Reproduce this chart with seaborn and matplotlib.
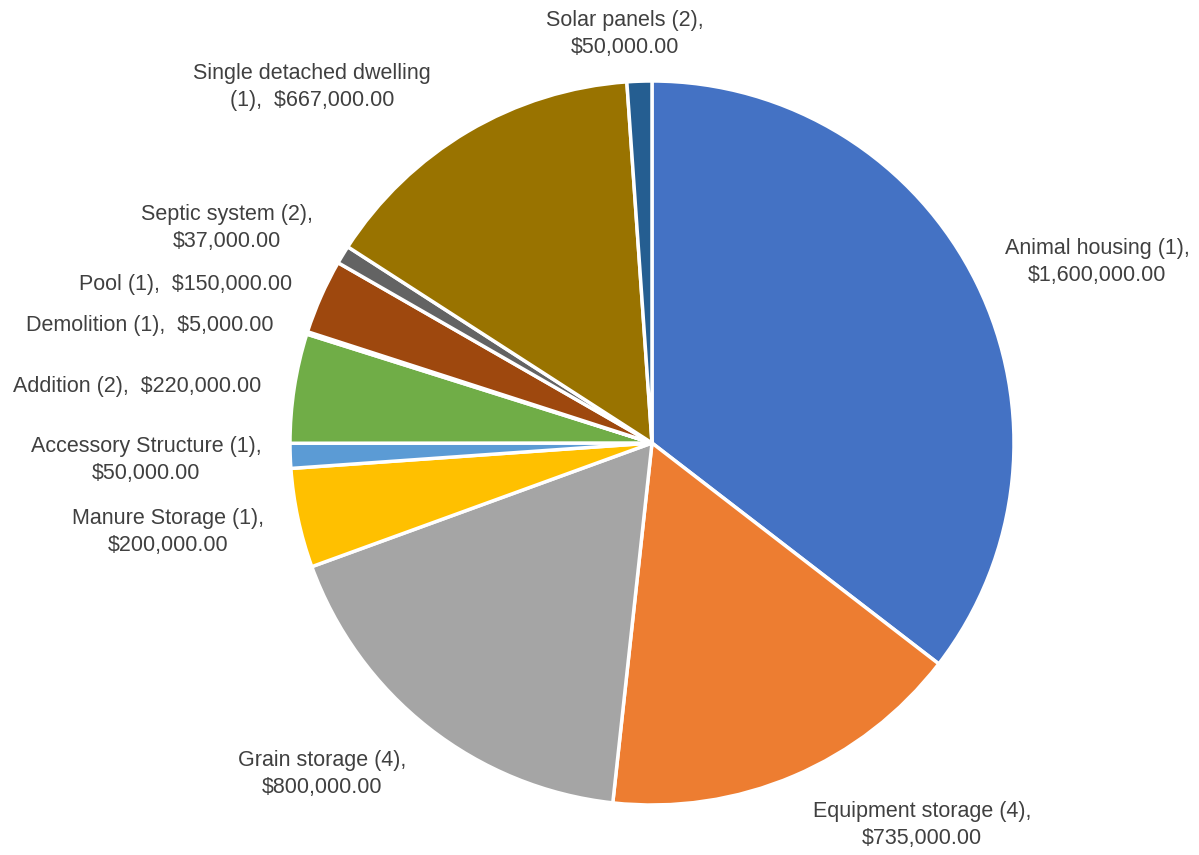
import matplotlib
matplotlib.use("Agg")
import matplotlib.pyplot as plt
import seaborn as sns
import numpy as np

sns.set_theme(style="white")
plt.rcParams['font.family'] = ['Liberation Sans', 'DejaVu Sans']

categories = ["Animal housing (1)", "Equipment storage (4)", "Grain storage (4)",
              "Manure Storage (1)", "Accessory Structure (1)", "Addition (2)",
              "Demolition (1)", "Pool (1)", "Septic system (2)",
              "Single detached dwelling (1)", "Solar panels (2)"]
values = [1600000, 735000, 800000, 200000, 50000, 220000, 5000, 150000, 37000, 667000, 50000]
label_texts = ["Animal housing (1),\n$1,600,000.00",
               "Equipment storage (4),\n$735,000.00",
               "Grain storage (4),\n$800,000.00",
               "Manure Storage (1),\n$200,000.00",
               "Accessory Structure (1),\n$50,000.00",
               "Addition (2),  $220,000.00",
               "Demolition (1),  $5,000.00",
               "Pool (1),  $150,000.00",
               "Septic system (2),\n$37,000.00",
               "Single detached dwelling\n(1),  $667,000.00",
               "Solar panels (2),\n$50,000.00"]
colors = ["#4472C4", "#ED7D31", "#A5A5A5", "#FFC000", "#5B9BD5", "#70AD47",
          "#264478", "#9E480E", "#636363", "#997300", "#255E91"]

# label centres in pixels of the 1199x855 image
label_px = [(1097, 262), (922, 825), (322, 774), (168, 532), (146, 460),
            (137, 386), (150, 325), (186, 284), (227, 228), (312, 87), (625, 34)]

W, H = 1199, 855
cx, cy, r = 652, 443, 362

fig = plt.figure(figsize=(W / 100, H / 100), dpi=100)
ax = fig.add_axes([(cx - r) / W, (H - cy - r) / H, 2 * r / W, 2 * r / H])
ax.pie(values, colors=colors, startangle=90, counterclock=False, radius=1,
       wedgeprops=dict(edgecolor="white", linewidth=2.5))
ax.set_xlim(-1, 1)
ax.set_ylim(-1, 1)
ax.set_aspect("equal")
ax.axis("off")

for txt, (px, py) in zip(label_texts, label_px):
    fig.text(px / W, 1 - py / H, txt, ha="center", va="center",
             fontsize=15.5, color="#404040", linespacing=1.35)

fig.savefig("out.png", dpi=100)
